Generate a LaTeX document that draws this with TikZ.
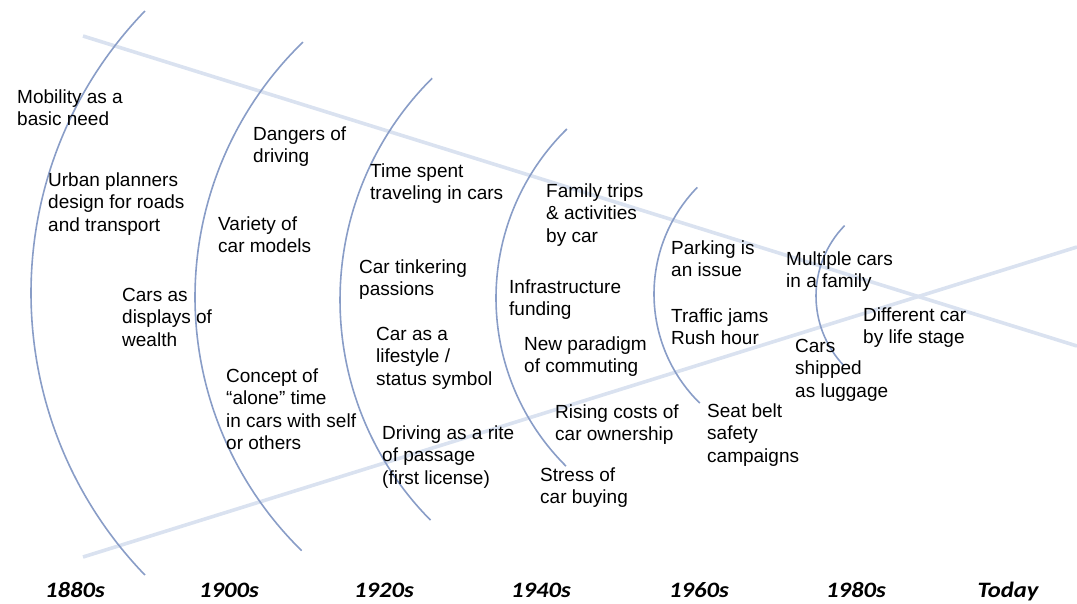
\documentclass[tikz,border=0pt]{standalone}
\usepackage{fontspec}
\setmainfont{Liberation Sans}
\newfontfamily\yearfont[FakeStretch=1.12]{Carlito}
\definecolor{arccol}{RGB}{137,157,199}
\definecolor{linecol}{RGB}{218,226,240}
\newcommand{\txt}[1]{\begin{tabular}[t]{@{}l@{}}#1\end{tabular}}
\tikzset{
  lbl/.style={anchor=base west, inner sep=0pt, font=\fontsize{19}{22.6}\selectfont},
  yr/.style={anchor=base, inner sep=0pt, font=\fontsize{22}{26}\yearfont\bfseries\itshape},
  arcline/.style={draw=arccol, line width=1.6pt},
  axisline/.style={draw=linecol, line width=3.6pt}
}
\begin{document}
\begin{tikzpicture}[x=1pt,y=-1pt]
\useasboundingbox (0,0) rectangle (1077,603);
% converging lines
\coordinate (a1) at (83,36);
\coordinate (a2) at (1077,346);
\coordinate (b1) at (83,557);
\coordinate (b2) at (1077,247);
\draw[axisline] (a1) -- (a2);
\draw[axisline] (b1) -- (b2);
% arcs
\draw[arcline] ([shift={(224:406)}]437,293) arc[start angle=224, end angle=136, radius=406];
\draw[arcline] ([shift={(225.9:355)}]550,297) arc[start angle=225.9, end angle=134.4, radius=355];
\draw[arcline] ([shift={(225.1:313)}]653,300) arc[start angle=225.1, end angle=135.3, radius=313];
\draw[arcline] ([shift={(225.5:237)}]733,298) arc[start angle=225.5, end angle=134.8, radius=237];
\draw[arcline] ([shift={(224.2:153)}]807,294) arc[start angle=224.2, end angle=134.5, radius=153];
\draw[arcline] ([shift={(224.2:101)}]917,296) arc[start angle=224.2, end angle=136.6, radius=101];
% texts
\node[lbl] (t1) at (17,103) {\txt{Mobility as a\\basic need}};
\node[lbl] (t2) at (48,186) {\txt{Urban planners\\design for roads\\and transport}};
\node[lbl] (t3) at (122,301) {\txt{Cars as\\displays of\\wealth}};
\node[lbl] (t4) at (253,140) {\txt{Dangers of\\driving}};
\node[lbl] (t5) at (218,230) {\txt{Variety of\\car models}};
\node[lbl] (t6) at (226,382) {\txt{Concept of\\“alone” time\\in cars with self\\or others}};
\node[lbl] (t7) at (370,177) {\txt{Time spent\\traveling in cars}};
\node[lbl] (t8) at (359,273) {\txt{Car tinkering\\passions}};
\node[lbl] (t9) at (376,340) {\txt{Car as a\\lifestyle /\\status symbol}};
\node[lbl] (t10) at (382,439) {\txt{Driving as a rite\\of passage\\(first license)}};
\node[lbl] (t11) at (546,197) {\txt{Family trips\\\& activities\\by car}};
\node[lbl] (t12) at (509,293) {\txt{Infrastructure\\funding}};
\node[lbl] (t13) at (524,350) {\txt{New paradigm\\of commuting}};
\node[lbl] (t14) at (555,418) {\txt{Rising costs of\\car ownership}};
\node[lbl] (t15) at (540,481) {\txt{Stress of\\car buying}};
\node[lbl] (t16) at (671,254) {\txt{Parking is\\an issue}};
\node[lbl] (t17) at (671,322) {\txt{Traffic jams\\Rush hour}};
\node[lbl] (t18) at (707,417) {\txt{Seat belt\\safety\\campaigns}};
\node[lbl] (t19) at (786,265) {\txt{Multiple cars\\in a family}};
\node[lbl] (t20) at (863,321) {\txt{Different car\\by life stage}};
\node[lbl] (t21) at (795,352) {\txt{Cars\\shipped\\as luggage}};
% years
\node[yr] (y1) at (75,597) {1880s};
\node[yr] (y2) at (229,597) {1900s};
\node[yr] (y3) at (384,597) {1920s};
\node[yr] (y4) at (541,597) {1940s};
\node[yr] (y5) at (699,597) {1960s};
\node[yr] (y6) at (856,597) {1980s};
\node[yr] (y7) at (1008,597) {Today};
\end{tikzpicture}
\end{document}
